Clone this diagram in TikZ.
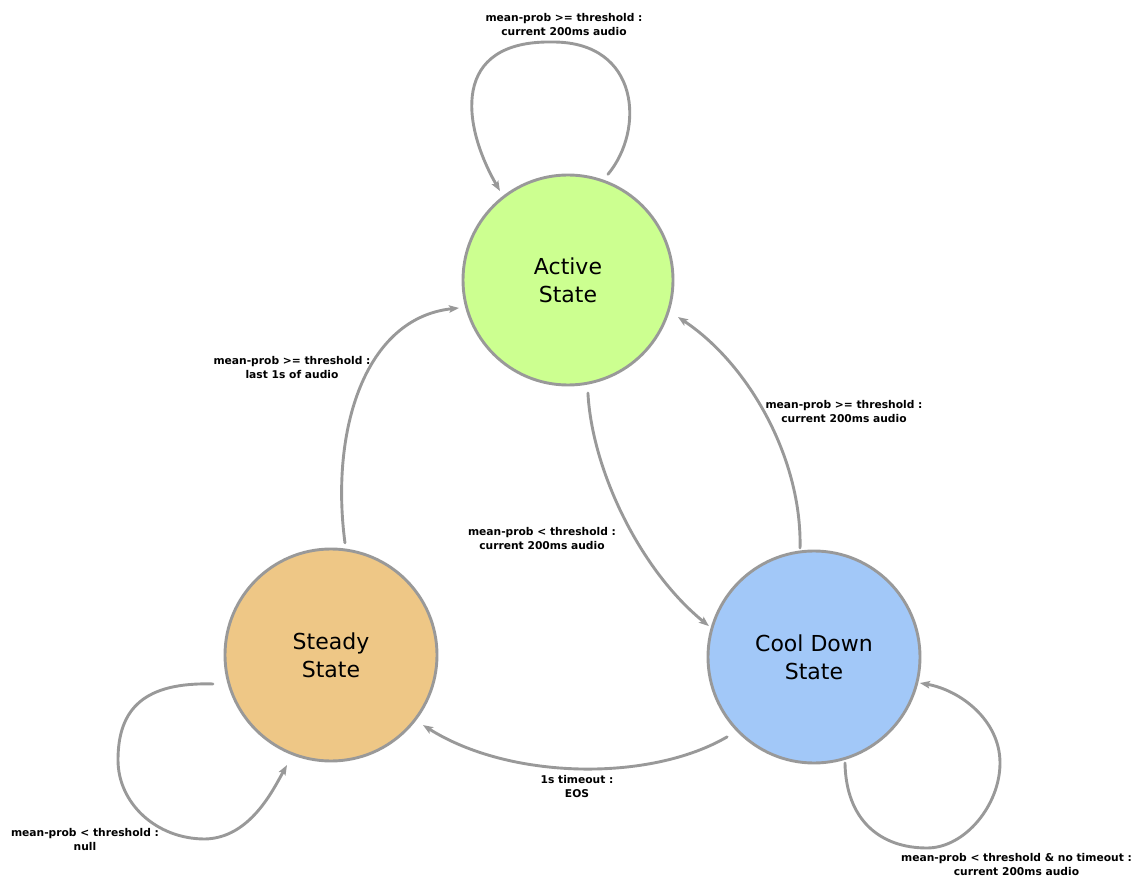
\documentclass[tikz,border=0pt]{standalone}
\usepackage{fontspec}
\setmainfont{DejaVu Sans}
\usetikzlibrary{arrows.meta,calc}
\definecolor{edgegray}{RGB}{153,153,153}
\definecolor{activefill}{RGB}{204,255,144}
\definecolor{steadyfill}{RGB}{238,199,134}
\definecolor{coolfill}{RGB}{162,200,248}
\begin{document}
\begin{tikzpicture}[x=1pt,y=1pt,
  state/.style={circle,draw=edgegray,line width=2.9pt,minimum size=#1,inner sep=0pt,outer sep=0pt,
    font=\fontsize{22}{28}\selectfont,align=center},
  trans/.style={draw=edgegray,line width=2.9pt,line cap=round,
    -{Stealth[length=10pt,width=7.5pt,inset=2pt]}},
  lbl/.style={font=\fontsize{10.7}{14}\selectfont\bfseries,align=center,inner sep=0pt}]
\useasboundingbox (0,0) rectangle (1138,-882);

\node[state=210pt,fill=activefill] (act) at (568,-280) {Active\\State};
\node[state=212pt,fill=steadyfill] (st) at (331,-655) {Steady\\State};
\node[state=212pt,fill=coolfill] (cool) at (814,-657) {Cool Down\\State};

% Active self loop
\draw[trans] ($(act.center)+(69.3:113)$) .. controls (645,-130) and (640,-42) .. (553,-42)
  .. controls (450,-40) and (462,-125) .. ($(act.center)+(127.4:112)$);
\node[lbl] (l1) at (564,-24.5) {mean-prob >= threshold :\\current 200ms audio};

% Steady -> Active
\draw[trans] ($(st.center)+(82.9:113)$) .. controls (330,-430) and (365,-318) .. ($(act.center)+(194.4:112.5)$);
\node[lbl] (l2) at (292,-368) {mean-prob >= threshold :\\last 1s of audio};

% Active -> Cool Down
\draw[trans] ($(act.center)+(-80:114.8)$) .. controls (592,-470) and (640,-570) .. ($(cool.center)+(163.6:109.5)$);
\node[lbl] (l3) at (542,-539) {mean-prob < threshold :\\current 200ms audio};

% Cool Down -> Active
\draw[trans] ($(cool.center)+(97.3:110)$) .. controls (802,-460) and (750,-365) .. ($(act.center)+(-18.6:116)$);
\node[lbl] (l4) at (844,-411.5) {mean-prob >= threshold :\\current 200ms audio};

% Cool Down -> Steady
\draw[trans] ($(cool.center)+(222.6:118)$) .. controls (650,-782) and (510,-780) .. ($(st.center)+(-37.3:115.6)$);
\node[lbl] (l5) at (577,-787) {1s timeout :\\EOS};

% Steady self loop
\draw[trans] ($(st.center)+(193.8:121.5)$) .. controls (145,-682) and (118,-708) .. (118,-760)
  .. controls (118,-803) and (156,-839) .. (205,-839)
  .. controls (250,-838) and (273,-790) .. ($(st.center)+(248.2:118.5)$);
\node[lbl] (l6) at (85,-839.5) {mean-prob < threshold :\\null};

% Cool Down self loop
\draw[trans] ($(cool.center)+(-73.7:110.4)$) .. controls (846,-820) and (880,-848) .. (927,-848)
  .. controls (965,-848) and (1000,-805) .. (1000,-763)
  .. controls (1000,-720) and (960,-690) .. ($(cool.center)+(-13.8:109)$);
\node[lbl] (l7) at (1016.5,-864.5) {mean-prob < threshold \& no timeout :\\current 200ms audio};
\end{tikzpicture}
\end{document}
